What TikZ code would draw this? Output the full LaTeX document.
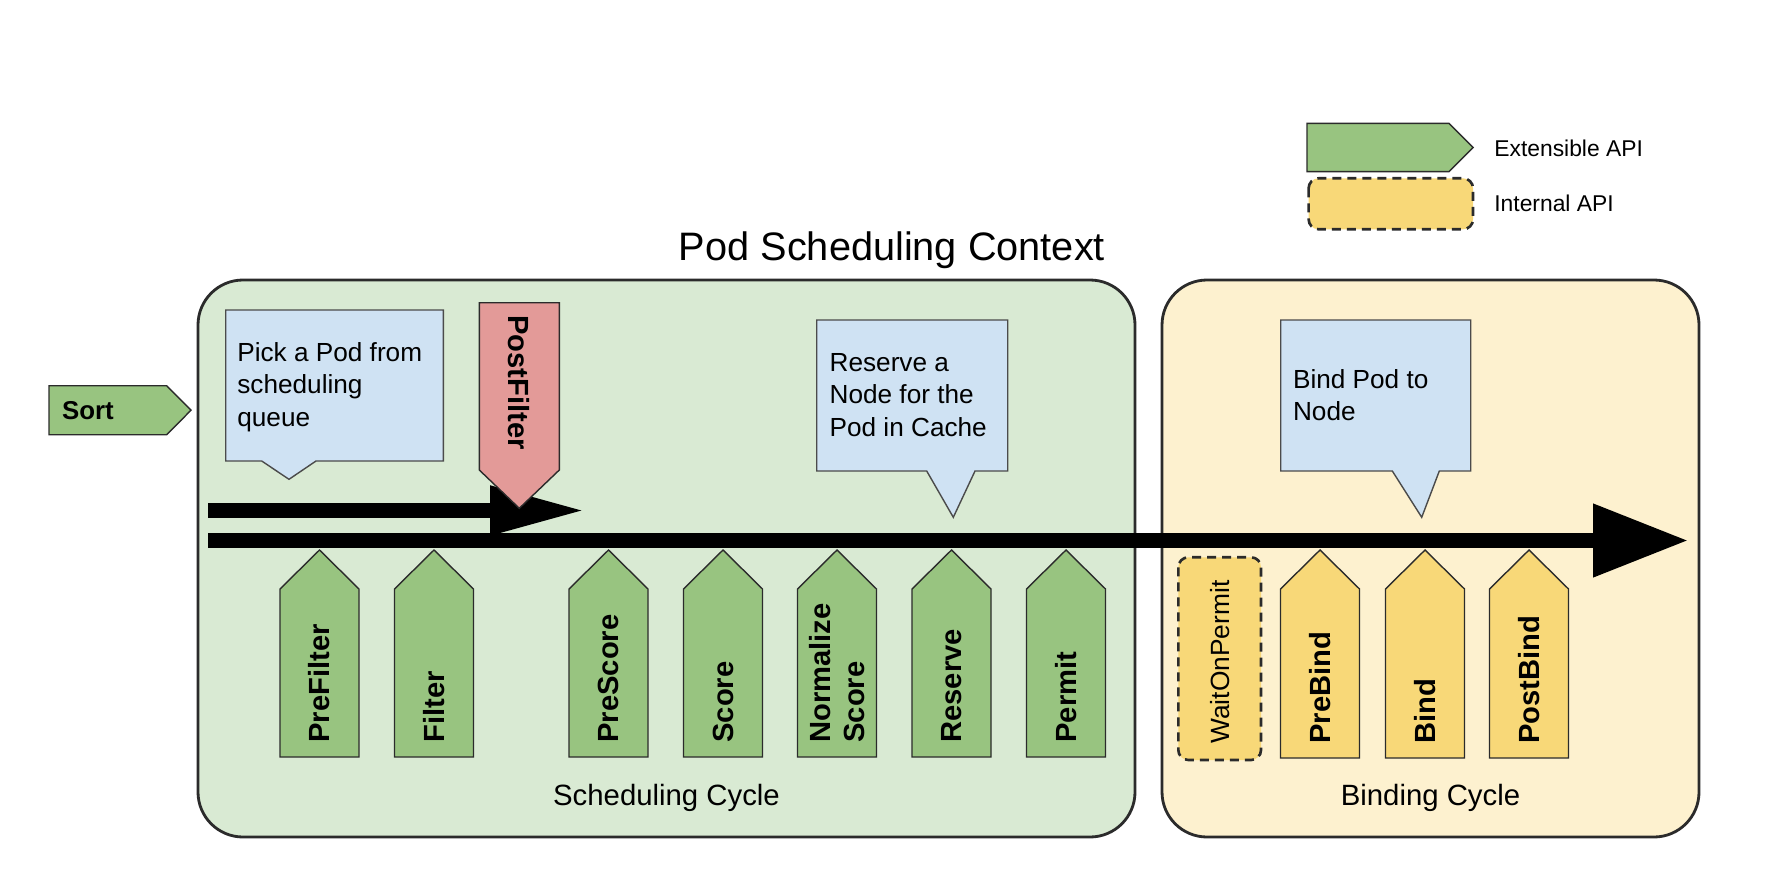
\documentclass[tikz,border=0pt]{standalone}
\usepackage{fontspec}
\setmainfont{Liberation Sans}
\usetikzlibrary{arrows.meta}

\definecolor{schedbg}{HTML}{D9EAD3}
\definecolor{bindbg}{HTML}{FDF1CF}
\definecolor{extgreen}{HTML}{98C480}
\definecolor{intyellow}{HTML}{F8D878}
\definecolor{postred}{HTML}{E39A98}
\definecolor{notebg}{HTML}{CFE2F3}
\definecolor{edge}{HTML}{2B2B2B}

\tikzset{
  cyclebox/.style={draw=edge, line width=1.6pt, rounded corners=0.9cm},
  extpt/.style={draw=edge, line width=0.8pt, fill=extgreen},
  intpt/.style={draw=edge, line width=0.8pt, fill=intyellow},
  notebox/.style={draw=edge!85, line width=0.8pt, fill=notebg},
  ptlabel/.style={rotate=90, anchor=west, inner sep=0pt, align=left,
    font=\fontsize{16.6}{19}\selectfont\bfseries},
  notetext/.style={anchor=west, inner sep=0pt, align=left,
    font=\fontsize{14.9}{18.5}\selectfont},
  flow/.style={line width=0.288cm, draw=black},
}

\begin{document}
\begin{tikzpicture}[x=0.02cm,y=-0.02cm]
  \useasboundingbox (0,0) rectangle (1790,882);

  % the two cycles
  \draw[cyclebox, fill=schedbg] (198,280) rectangle (1135,837);
  \draw[cyclebox, fill=bindbg] (1162,280) rectangle (1699,837);

  % flow arrows
  \coordinate (q0) at (208,510.5);
  \coordinate (q1) at (585,510.5);
  \coordinate (m0) at (208,540.5);
  \coordinate (m1) at (1688,540.5);
  \draw[flow, -{Triangle[length=1.9cm,width=0.92cm]}] (q0) -- (q1);
  \draw[flow, -{Triangle[length=1.9cm,width=1.4cm]}] (m0) -- (m1);

  % callouts
  \draw[notebox] (225.7,310) -- (443.3,310) -- (443.3,461) -- (316,461)
     -- (289,479.3) -- (261.7,461) -- (225.7,461) -- cycle;
  \node[notetext] (pick) at (237,387) {Pick a Pod from\\scheduling\\queue};
  \draw[notebox] (816.7,320) -- (1007.7,320) -- (1007.7,471) -- (975,471)
     -- (953.3,517.3) -- (926.7,471) -- (816.7,471) -- cycle;
  \node[notetext] (reserve) at (829.3,395) {Reserve a\\Node for the\\Pod in Cache};
  \draw[notebox] (1280.7,320) -- (1470.7,320) -- (1470.7,471) -- (1439.3,471)
     -- (1421.7,517.3) -- (1392.3,471) -- (1280.7,471) -- cycle;
  \node[notetext] (bindnote) at (1292.7,395) {Bind Pod to\\Node};

  % scheduling cycle plugins
  \foreach \cx/\lbl [count=\i] in {319.5/PreFilter, 434/Filter, 608.5/PreScore,
      723/Score, 837/{Normalize\\Score}, 951.5/Reserve, 1066/Permit} {
    \draw[extpt] (\cx-39.5,757) -- (\cx-39.5,589) -- (\cx,550)
       -- (\cx+39.5,589) -- (\cx+39.5,757) -- cycle;
    \node[ptlabel] (sched-\i) at (\cx,743) {\lbl};
  }

  % binding cycle plugins
  \draw[intpt, dash pattern=on 0.18cm off 0.12cm, line width=1.5pt, rounded corners=0.2cm]
     (1178.3,557.3) rectangle (1261,760);
  \node[ptlabel, font=\fontsize{15}{18}\selectfont] (waitperm) at (1219.7,744) {WaitOnPermit};
  \foreach \cx/\lbl [count=\i] in {1320/PreBind, 1425/Bind, 1529/PostBind} {
    \draw[intpt] (\cx-39.5,758) -- (\cx-39.5,589) -- (\cx,550)
       -- (\cx+39.5,589) -- (\cx+39.5,758) -- cycle;
    \node[ptlabel] (bind-\i) at (\cx,744) {\lbl};
  }

  % PostFilter
  \draw[extpt, fill=postred] (479.3,302.7) -- (559.3,302.7) -- (559.3,470)
     -- (519.3,508.3) -- (479.3,470) -- cycle;
  \node[ptlabel, rotate=-180] (postfilter) at (519.3,315) {PostFilter};

  % Sort
  \draw[extpt] (49,385.7) -- (166.7,385.7) -- (191,410.2) -- (166.7,434.7)
     -- (49,434.7) -- cycle;
  \node[anchor=west, inner sep=0pt, font=\fontsize{14.7}{17}\selectfont\bfseries]
     (sort) at (61.7,410.2) {Sort};

  % legend
  \draw[extpt] (1307,123.3) -- (1449,123.3) -- (1473,147.5) -- (1449,171.7)
     -- (1307,171.7) -- cycle;
  \draw[intpt, dash pattern=on 0.18cm off 0.12cm, line width=1.5pt, rounded corners=0.2cm]
     (1308.6,178.3) rectangle (1473,229.3);
  \node[anchor=west, inner sep=0pt, font=\fontsize{13}{15}\selectfont] (extapi) at (1494,148) {Extensible API};
  \node[anchor=west, inner sep=0pt, font=\fontsize{13}{15}\selectfont] (intapi) at (1494,203) {Internal API};

  % titles
  \node[anchor=base, inner sep=0pt, font=\fontsize{22.6}{26}\selectfont] (title) at (892,260) {Pod Scheduling Context};
  \node[anchor=base, inner sep=0pt, font=\fontsize{16.7}{19}\selectfont] (schedcycle) at (666.5,805) {Scheduling Cycle};
  \node[anchor=base, inner sep=0pt, font=\fontsize{16.7}{19}\selectfont] (bindcycle) at (1430.5,805) {Binding Cycle};
\end{tikzpicture}
\end{document}
